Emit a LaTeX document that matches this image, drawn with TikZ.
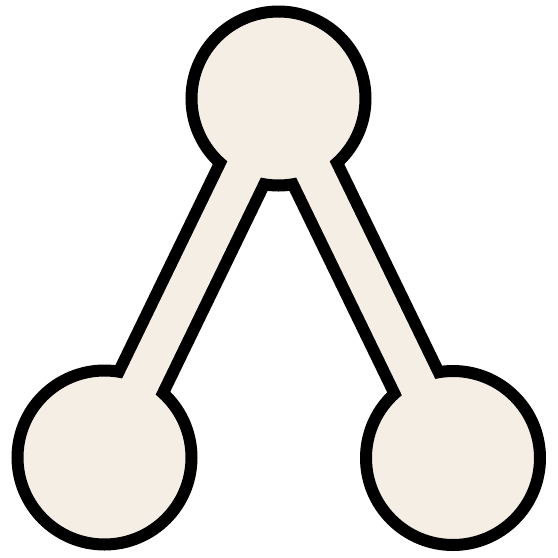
\documentclass[tikz,border=0pt]{standalone}
\usetikzlibrary{backgrounds}
\definecolor{cream}{HTML}{F4EEE5}
\tikzset{
  ball/.style={circle, draw=black, line width=12pt, fill=cream, minimum size=174pt, inner sep=0pt},
  barout/.style={line width=61pt, draw=black},
  barin/.style={line width=37pt, draw=cream}
}
\begin{document}
\begin{tikzpicture}[x=1pt,y=-1pt]
\useasboundingbox (0,0) rectangle (558,558);
\node[ball] (t) at (278.5,98.5) {};
\node[ball] (l) at (104.5,457.5) {};
\node[ball] (r) at (453,458) {};
\begin{pgfonlayer}{background}
\draw[barout] (t.center) -- (l.center);
\draw[barout] (t.center) -- (r.center);
\end{pgfonlayer}
\draw[barin] (t.center) -- (l.center);
\draw[barin] (t.center) -- (r.center);
\end{tikzpicture}
\end{document}
